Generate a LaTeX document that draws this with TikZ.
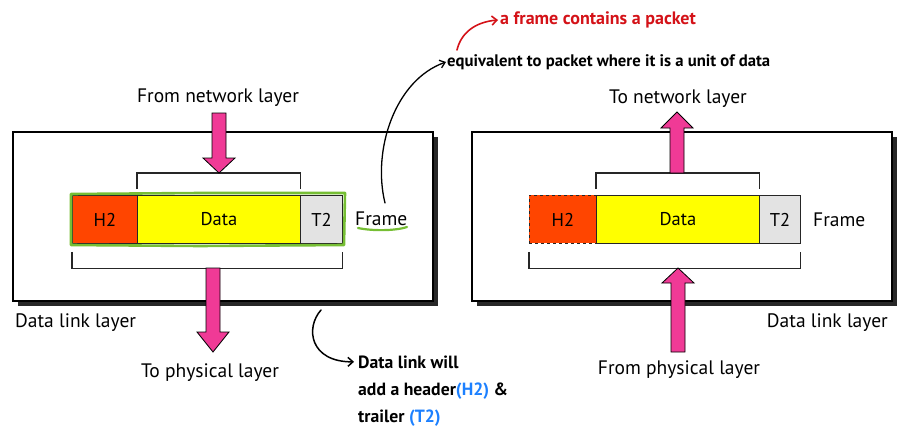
\documentclass[tikz,border=0pt]{standalone}
\usepackage{fontspec}
\setmainfont{PT Sans}
\newfontfamily\handfont{PT Sans}
\usetikzlibrary{arrows.meta,calc}
\definecolor{hdr}{RGB}{255,69,0}
\definecolor{dat}{RGB}{255,255,0}
\definecolor{trl}{RGB}{227,227,227}
\definecolor{pinkarrow}{RGB}{240,58,150}
\definecolor{hlgreen}{RGB}{118,190,52}
\definecolor{notered}{RGB}{212,18,24}
\definecolor{noteblue}{RGB}{28,128,255}
\definecolor{shadowgray}{RGB}{40,40,40}
\newcommand\fatarrow[3]{%
  \filldraw[fatarr] let \p1=(#1), \p2=(#2), \n1={sign(\y2-\y1)} in
    (\x1-7pt,\y1) -- (\x1-7pt,{\y2-\n1*#3}) -- (\x1-16pt,{\y2-\n1*#3}) -- (\x2,\y2)
    -- (\x1+16pt,{\y2-\n1*#3}) -- (\x1+7pt,{\y2-\n1*#3}) -- (\x1+7pt,\y1) -- cycle;}
\begin{document}
\begin{tikzpicture}[x=1pt,y=-1pt,
  lbl/.style={font=\fontsize{19.5}{22}\selectfont, inner sep=0pt},
  cell/.style={draw=black!85, line width=0.9pt, font=\fontsize{18.5}{20}\selectfont,
    inner sep=0pt, minimum height=48pt, anchor=north west},
  boxline/.style={draw=black, line width=1.1pt},
  bracket/.style={draw=black!85, line width=1.1pt},
  fatarr/.style={fill=pinkarrow, draw=black, line width=0.8pt},
  hand/.style={font=\handfont\bfseries\fontsize{16.7}{18}\selectfont, inner sep=0pt},
  handline/.style={line width=1.6pt, line cap=round}]
\useasboundingbox (0,0) rectangle (909,436);

% ---------- left (sender) ----------
\node[cell, fill=hdr, minimum width=65pt] (h2L) at (72,195) {H2};
\node[cell, fill=dat, minimum width=163pt] (dataL) at (137,195) {Data};
\node[cell, fill=trl, minimum width=42pt] (t2L) at (300,195) {T2};
\node[lbl, anchor=base west] (frameL) at (355,225) {Frame};
\draw[bracket] ([yshift=6pt]dataL.north west) -- ([yshift=22pt]dataL.north west)
  -- ([yshift=22pt]dataL.north east) -- ([yshift=6pt]dataL.north east);
\draw[bracket] ([yshift=-8pt]h2L.south west) -- ([yshift=-25pt]h2L.south west)
  -- ([yshift=-25pt]t2L.south east) -- ([yshift=-8pt]t2L.south east);
\node[lbl, anchor=base] (fromnet) at (218,102) {From network layer};
\node[lbl, anchor=base] (tophys) at (210,377) {To physical layer};
\node[lbl, anchor=base west] (dllL) at (15,327) {Data link layer};
\coordinate (a1s) at (219,113);
\coordinate (a1e) at (219,173);
\coordinate (a2s) at (213,268);
\coordinate (a2e) at (213,352);

% ---------- right (receiver) ----------
\node[cell, fill=hdr, minimum width=67pt, dashed] (h2R) at (529,195) {H2};
\node[cell, fill=dat, minimum width=163pt] (dataR) at (596,195) {Data};
\node[cell, fill=trl, minimum width=41pt] (t2R) at (759,195) {T2};
\node[lbl, anchor=base west] (frameR) at (813,226) {Frame};
\draw[bracket] ([yshift=6pt]dataR.north west) -- ([yshift=22pt]dataR.north west)
  -- ([yshift=22pt]dataR.north east) -- ([yshift=6pt]dataR.north east);
\draw[bracket] ([yshift=-8pt]h2R.south west) -- ([yshift=-25pt]h2R.south west)
  -- ([yshift=-25pt]t2R.south east) -- ([yshift=-8pt]t2R.south east);
\node[lbl, anchor=base] (tonet) at (678,103) {To network layer};
\node[lbl, anchor=base] (fromphys) at (679,374) {From physical layer};
\node[lbl, anchor=base east] (dllR) at (888,327) {Data link layer};
\coordinate (a3s) at (677,173);
\coordinate (a3e) at (677,112);
\coordinate (a4s) at (678,352);
\coordinate (a4e) at (678,268);

% ---------- layer boxes and their shadows ----------
\draw[boxline] (13,132) rectangle (433,301);
\fill[shadowgray] (433.5,137) rectangle (438,306);
\fill[shadowgray] (18,301.5) rectangle (438,306);
\draw[boxline] (472,132) rectangle (892,301);
\fill[shadowgray] (892.5,137) rectangle (897,306);
\fill[shadowgray] (477,301.5) rectangle (897,306);

% ---------- fat arrows ----------
\fatarrow{a1s}{a1e}{15pt}
\fatarrow{a2s}{a2e}{20pt}
\fatarrow{a3s}{a3e}{16pt}
\fatarrow{a4s}{a4e}{15pt}

% green highlight
\draw[hlgreen, line width=2.6pt, line join=round]
  (71,194) -- (200,193) -- (345,193) -- (344,245) -- (200,246) -- (71,245) -- cycle;
\draw[hlgreen, line width=2.2pt, line cap=round]
  (358,228) .. controls (372,231) and (395,231) .. (407,227);

% ---------- handwritten notes ----------
\node[hand, anchor=west, text=notered, font=\handfont\bfseries\fontsize{18}{20}\selectfont] (noteA) at (500,20) {a frame contains a packet};
\node[hand, anchor=west] (noteB) at (447,62) {equivalent to packet where it is a unit of data};
\draw[handline, notered, -{Straight Barb[length=5pt,width=9pt]}]
  (457,50) .. controls (461,33) and (475,22) .. ([xshift=-2pt]noteA.west);
\draw[handline, black, line width=1.3pt, -{Straight Barb[length=5pt,width=8pt]}]
  (385,203) .. controls (372,150) and (395,80) .. ([xshift=-1pt]noteB.west);
\node[hand, anchor=base west, font=\handfont\bfseries\fontsize{17.7}{19}\selectfont] (noteC1) at (358,368) {Data link will};
\node[hand, anchor=base west, font=\handfont\bfseries\fontsize{17.7}{19}\selectfont] (noteC2) at (358,395) {add a header\textcolor{noteblue}{(H2)} \&};
\node[hand, anchor=base west, font=\handfont\bfseries\fontsize{17.7}{19}\selectfont] (noteC3) at (358,422) {trailer \textcolor{noteblue}{(T2)}};
\draw[handline, black, line width=1.5pt, -{Straight Barb[length=5pt,width=9pt]}]
  (321,310) .. controls (305,328) and (310,362) .. ([xshift=-4pt]noteC1.west);
\end{tikzpicture}
\end{document}
